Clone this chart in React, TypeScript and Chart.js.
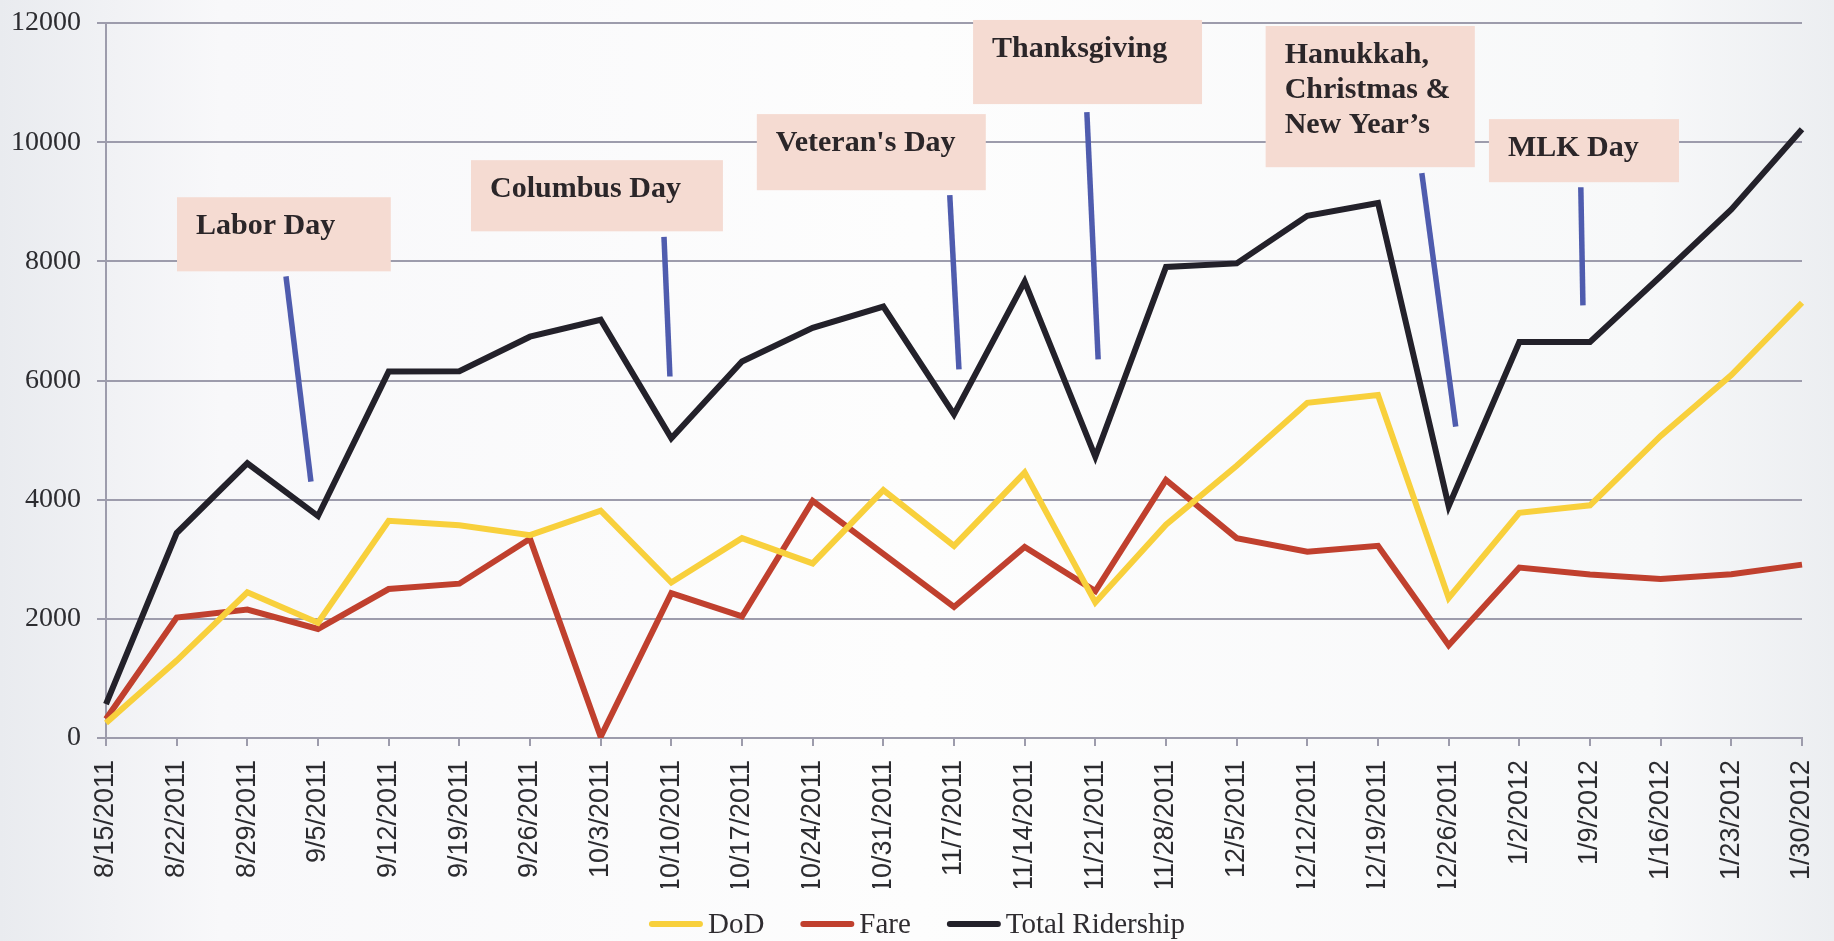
import React, { useEffect, useRef } from "react";
import { Chart, registerables } from "chart.js";

Chart.register(...registerables);

const categories = [
  "8/15/2011", "8/22/2011", "8/29/2011", "9/5/2011", "9/12/2011", "9/19/2011", "9/26/2011",
  "10/3/2011", "10/10/2011", "10/17/2011", "10/24/2011", "10/31/2011", "11/7/2011", "11/14/2011",
  "11/21/2011", "11/28/2011", "12/5/2011", "12/12/2011", "12/19/2011", "12/26/2011",
  "1/2/2012", "1/9/2012", "1/16/2012", "1/23/2012", "1/30/2012",
];

const dodValues = [250, 1300, 2445, 1935, 3645, 3570, 3405, 3815, 2610, 3355, 2930, 4160, 3225, 4455, 2275, 3580, 4570, 5625, 5755, 2350, 3780, 3905, 5070, 6090, 7305];
const fareValues = [320, 2020, 2155, 1830, 2500, 2590, 3345, 20, 2430, 2040, 3980, 3090, 2200, 3205, 2465, 4330, 3355, 3125, 3225, 1555, 2860, 2745, 2670, 2750, 2910];
const totalValues = [570, 3440, 4610, 3725, 6150, 6155, 6735, 7020, 5030, 6320, 6885, 7240, 5430, 7660, 4720, 7905, 7965, 8765, 8980, 3890, 6645, 6645, 7750, 8870, 10215];

const seriesNames = ["DoD", "Fare", "Total Ridership"];
const yMin = 0;
const yMax = 12000;
const yStep = 2000;

// Holiday call-outs, placed in data units: [category index, value]
const annoLabels: string[][] = [
  ["Labor Day"],
  ["Columbus Day"],
  ["Veteran's Day"],
  ["Thanksgiving"],
  ["Hanukkah,", "Christmas &", "New Year\u2019s"],
  ["MLK Day"],
];
const annoBoxFrom: number[][] = [[1.005, 9076], [5.165, 9698], [9.21, 10471], [12.27, 12051], [16.41, 11950], [19.57, 10387]];
const annoBoxTo: number[][] = [[4.03, 7832], [8.73, 8504], [12.45, 9194], [15.51, 10639], [19.37, 9580], [22.26, 9328]];
const annoLineFrom: number[][] = [[2.547, 7748], [7.896, 8412], [11.94, 9110], [13.88, 10504], [18.62, 9479], [20.87, 9244]];
const annoLineTo: number[][] = [[2.9, 4303], [7.98, 6067], [12.07, 6185], [14.04, 6353], [19.1, 5227], [20.9, 7261]];

const COLORS = ["#f8d03c", "#c0402e", "#23212a"];
const GRID = "#9d9cac";

const backgroundPlugin = {
  id: "paperBackground",
  beforeDraw(chart: any) {
    const { ctx, width, height } = chart;
    ctx.save();
    const g = ctx.createLinearGradient(0, 0, width, 0);
    g.addColorStop(0, "#e9ebef");
    g.addColorStop(0.12, "#f8f8fa");
    g.addColorStop(0.5, "#fdfdfd");
    g.addColorStop(0.9, "#f7f8f9");
    g.addColorStop(1, "#eceef1");
    ctx.fillStyle = g;
    ctx.fillRect(0, 0, width, height);
    ctx.restore();
  },
};

const holidayPlugin = {
  id: "holidayCallouts",
  afterDatasetsDraw(chart: any) {
    const { ctx } = chart;
    const xs = chart.scales.x;
    const ys = chart.scales.y;
    ctx.save();
    for (let i = 0; i < annoLabels.length; i++) {
      const x0 = xs.getPixelForValue(annoBoxFrom[i][0]);
      const y0 = ys.getPixelForValue(annoBoxFrom[i][1]);
      const x1 = xs.getPixelForValue(annoBoxTo[i][0]);
      const y1 = ys.getPixelForValue(annoBoxTo[i][1]);
      ctx.fillStyle = "#f5dbd2";
      ctx.fillRect(x0, y0, x1 - x0, y1 - y0);
      ctx.fillStyle = "#2b2629";
      ctx.font = "bold 30px 'Liberation Serif', 'DejaVu Serif', serif";
      ctx.textAlign = "left";
      ctx.textBaseline = "alphabetic";
      annoLabels[i].forEach((line, k) => {
        ctx.fillText(line, x0 + 19, y0 + 37 + k * 35);
      });
      ctx.strokeStyle = "#4f5cae";
      ctx.lineWidth = 5.5;
      ctx.lineCap = "butt";
      ctx.beginPath();
      ctx.moveTo(xs.getPixelForValue(annoLineFrom[i][0]), ys.getPixelForValue(annoLineFrom[i][1]));
      ctx.lineTo(xs.getPixelForValue(annoLineTo[i][0]), ys.getPixelForValue(annoLineTo[i][1]));
      ctx.stroke();
    }
    ctx.restore();
  },
};

const legendPlugin = {
  id: "lineLegend",
  afterDraw(chart: any) {
    const { ctx, width } = chart;
    const sets = chart.data.datasets;
    const markW = 54;
    const gap = 5;
    const spacing = 36;
    ctx.save();
    ctx.font = "29px 'Liberation Serif', 'DejaVu Serif', serif";
    const widths = sets.map((d: any) => ctx.measureText(d.label).width);
    const total = widths.reduce((a: number, w: number) => a + markW + gap + w, 0) + spacing * (sets.length - 1);
    let x = (width - total) / 2;
    const yc = 924;
    sets.forEach((d: any, i: number) => {
      ctx.strokeStyle = d.borderColor;
      ctx.lineWidth = 6;
      ctx.lineCap = "round";
      ctx.beginPath();
      ctx.moveTo(x + 3, yc);
      ctx.lineTo(x + markW - 3, yc);
      ctx.stroke();
      x += markW + gap;
      ctx.fillStyle = "#2f2c30";
      ctx.textAlign = "left";
      ctx.textBaseline = "middle";
      ctx.fillText(d.label, x, yc + 1);
      x += widths[i] + spacing;
    });
    ctx.restore();
  },
};

export default function App() {
  const canvasRef = useRef<HTMLCanvasElement | null>(null);

  useEffect(() => {
    document.body.style.margin = "0";
    const canvas = canvasRef.current;
    if (!canvas) return;
    const seriesData = [dodValues, fareValues, totalValues];
    const chart = new Chart(canvas, {
      type: "line",
      data: {
        labels: categories,
        datasets: seriesData.map((vals, i) => ({
          label: seriesNames[i],
          data: vals,
          borderColor: COLORS[i],
          backgroundColor: COLORS[i],
          borderWidth: 6,
          pointRadius: 0,
          pointHoverRadius: 0,
          tension: 0,
          borderJoinStyle: "miter" as const,
          fill: false,
        })),
      },
      options: {
        responsive: false,
        animation: false,
        devicePixelRatio: 1,
        layout: { padding: { left: 0, right: 32, top: 23, bottom: 53 } },
        plugins: {
          legend: { display: false },
          tooltip: { enabled: false },
          title: { display: false },
        },
        scales: {
          x: {
            type: "category",
            offset: false,
            grid: {
              display: true,
              drawOnChartArea: false,
              drawTicks: true,
              tickLength: 8,
              color: GRID,
              lineWidth: 2,
            },
            border: { display: true, color: GRID, width: 2 },
            ticks: {
              autoSkip: false,
              minRotation: 90,
              maxRotation: 90,
              padding: 14,
              color: "#2c2c30",
              font: { family: "'Liberation Sans Narrow', 'Liberation Sans', 'DejaVu Sans Condensed', sans-serif", size: 27 },
            },
            afterFit: (scale: any) => {
              scale.height = 150;
              scale.paddingLeft = 0;
              scale.paddingRight = 0;
            },
          },
          y: {
            min: yMin,
            max: yMax,
            grid: {
              color: GRID,
              lineWidth: 2,
              drawTicks: true,
              tickLength: 9,
            },
            border: { display: true, color: GRID, width: 2 },
            ticks: {
              stepSize: yStep,
              padding: 16,
              color: "#2c2c30",
              font: { family: "'Liberation Serif', 'DejaVu Serif', serif", size: 28 },
              callback: (v: any) => String(v),
            },
            afterFit: (scale: any) => {
              scale.width = 106;
              scale.paddingTop = 0;
              scale.paddingBottom = 0;
            },
          },
        },
      },
      plugins: [backgroundPlugin, holidayPlugin, legendPlugin],
    });
    return () => chart.destroy();
  }, []);

  return (
    <div style={{ width: 1834, height: 941, overflow: "hidden" }}>
      <canvas ref={canvasRef} width={1834} height={941} style={{ display: "block" }} />
    </div>
  );
}
